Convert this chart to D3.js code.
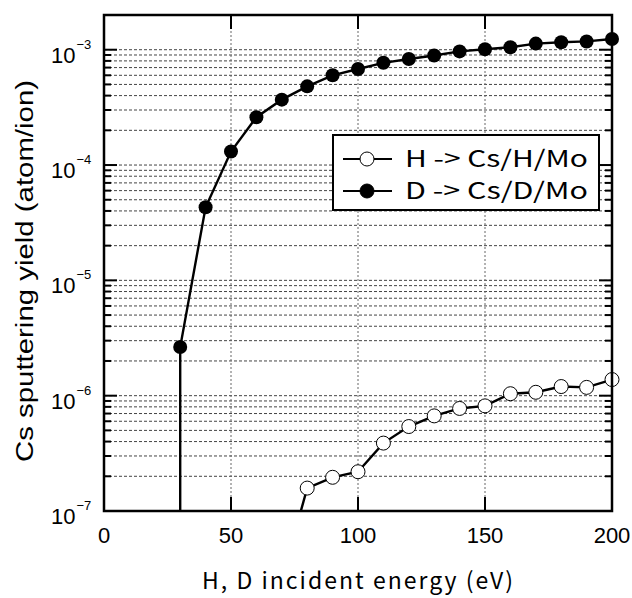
<!DOCTYPE html>
<html><head><meta charset="utf-8">
<script src="https://cdn.jsdelivr.net/npm/d3@7"></script>
<style>body{margin:0;background:#fff}</style>
</head><body>
<svg id="c" width="632" height="598"></svg>
<script>
const energies = [80,90,100,110,120,130,140,150,160,170,180,190,200];
const hYield = [1.58e-7,1.96e-7,2.19e-7,3.88e-7,5.4e-7,6.68e-7,7.75e-7,8.16e-7,1.04e-6,1.07e-6,1.2e-6,1.18e-6,1.38e-6];
const dEnergies = [30,40,50,60,70,80,90,100,110,120,130,140,150,160,170,180,190,200];
const dYield = [2.64e-6,4.3e-5,1.31e-4,2.6e-4,3.69e-4,4.81e-4,6.0e-4,6.8e-4,7.7e-4,8.3e-4,8.9e-4,9.67e-4,1.01e-3,1.05e-3,1.13e-3,1.16e-3,1.18e-3,1.24e-3];
// where each curve leaves the bottom of the plot (yield falls below 1e-7)
const hTail = {e: 77.5, y: 1e-7};
const dTail = {e: 30, y: 1e-7};
const xTicks = [0,50,100,150,200];
const yDecades = [-7,-6,-5,-4,-3];
const legendLabels = ["H -> Cs/H/Mo", "D -> Cs/D/Mo"];
const xTitle = "H, D incident energy (eV)";
const yTitle = "Cs sputtering yield (atom/ion)";

const L=104, R=612, T=15, B=511;
const svg = d3.select("#c");
const x = d3.scaleLinear().domain([0,200]).range([L,R]);
const y = d3.scaleLog().domain([1e-7,2e-3]).range([B,T]);

const minorVals = [];
for (let dcd=-7; dcd<=-3; dcd++) for (let m=1; m<=9; m++){ const v=m*Math.pow(10,dcd); if (v<=2e-3 && v>1e-7) minorVals.push(v);}
const g = svg.append("g");
g.selectAll("line.hg").data(minorVals).join("line")
 .attr("x1",L).attr("x2",R).attr("y1",d=>y(d)).attr("y2",d=>y(d))
 .attr("stroke","#444").attr("stroke-width",1).attr("stroke-dasharray","3,2");
g.selectAll("line.vg").data([50,100,150]).join("line")
 .attr("x1",d=>x(d)).attr("x2",d=>x(d)).attr("y1",T).attr("y2",B)
 .attr("stroke","#666").attr("stroke-width",1).attr("stroke-dasharray","2,2");

const allY = minorVals.concat([1e-7]);
allY.forEach(v=>{
  const isMajor = Math.abs(Math.log10(v)-Math.round(Math.log10(v)))<1e-9;
  const len = isMajor?13:7;
  g.append("line").attr("x1",L).attr("x2",L+len).attr("y1",y(v)).attr("y2",y(v)).attr("stroke","#000").attr("stroke-width",2);
  g.append("line").attr("x1",R).attr("x2",R-len).attr("y1",y(v)).attr("y2",y(v)).attr("stroke","#000").attr("stroke-width",2);
});
[50,100,150].forEach(v=>{
  g.append("line").attr("x1",x(v)).attr("x2",x(v)).attr("y1",B).attr("y2",B-14).attr("stroke","#000").attr("stroke-width",2);
  g.append("line").attr("x1",x(v)).attr("x2",x(v)).attr("y1",T).attr("y2",T+14).attr("stroke","#000").attr("stroke-width",2);
});

const line = d3.line().x(d=>x(d[0])).y(d=>y(d[1]));
const hPts = [[hTail.e,hTail.y]].concat(energies.map((e,i)=>[e,hYield[i]]));
const dPts = [[dTail.e,dTail.y]].concat(dEnergies.map((e,i)=>[e,dYield[i]]));
svg.append("path").attr("d",line(dPts)).attr("fill","none").attr("stroke","#000").attr("stroke-width",2.4);
svg.append("path").attr("d",line(hPts)).attr("fill","none").attr("stroke","#000").attr("stroke-width",2.4);
svg.selectAll("circle.d").data(dEnergies).join("circle")
 .attr("cx",d=>x(d)).attr("cy",(d,i)=>y(dYield[i])).attr("r",7).attr("fill","#000");
svg.selectAll("circle.h").data(energies).join("circle")
 .attr("cx",d=>x(d)).attr("cy",(d,i)=>y(hYield[i])).attr("r",7).attr("fill","#fff").attr("stroke","#000").attr("stroke-width",1);

svg.append("rect").attr("x",L).attr("y",T).attr("width",R-L).attr("height",B-T)
 .attr("fill","none").attr("stroke","#000").attr("stroke-width",2.5);

const tf = "Liberation Sans, Arial, Helvetica, sans-serif";
const jf = "Noto Sans CJK JP, sans-serif";
svg.selectAll("text.xt").data(xTicks).join("text")
 .attr("x",d=>x(d)).attr("y",B+32).attr("text-anchor","middle")
 .style("font-family",tf).style("font-size","22px").text(d=>d);
yDecades.forEach(dcd=>{
  const t = svg.append("text").attr("x",51).attr("y",y(Math.pow(10,dcd))+13)
   .style("font-family",tf).style("font-size","22px");
  t.append("tspan").text("10");
  t.append("tspan").attr("dy",-14).style("font-size","13px").attr("dx",1).text("\u2212"+(-dcd));
});

svg.append("text").attr("x",202).attr("y",589)
 .style("font-family",jf).style("font-size","23px")
 .attr("textLength",311).attr("lengthAdjust","spacing").text(xTitle);
svg.append("text").attr("transform","translate(33,462) rotate(-90)")
 .style("font-family",tf).style("font-size","23px")
 .attr("textLength",382).attr("lengthAdjust","spacingAndGlyphs").text(yTitle);

const lg = svg.append("g");
lg.append("rect").attr("x",333).attr("y",135).attr("width",266).attr("height",75)
 .attr("fill","#fff").attr("stroke","#000").attr("stroke-width",2);
const rows=[159,191];
legendLabels.forEach((lab,i)=>{
  lg.append("line").attr("x1",343).attr("x2",392).attr("y1",rows[i]).attr("y2",rows[i]).attr("stroke","#000").attr("stroke-width",2);
  lg.append("circle").attr("cx",367).attr("cy",rows[i]).attr("r",7)
   .attr("fill",i===0?"#fff":"#000").attr("stroke","#000").attr("stroke-width",1);
  lg.append("text").attr("x",405).attr("y",rows[i]+8).style("font-family",jf)
   .style("font-size","23px").attr("textLength",183).attr("lengthAdjust","spacingAndGlyphs").text(lab);
});
</script>
</body></html>
